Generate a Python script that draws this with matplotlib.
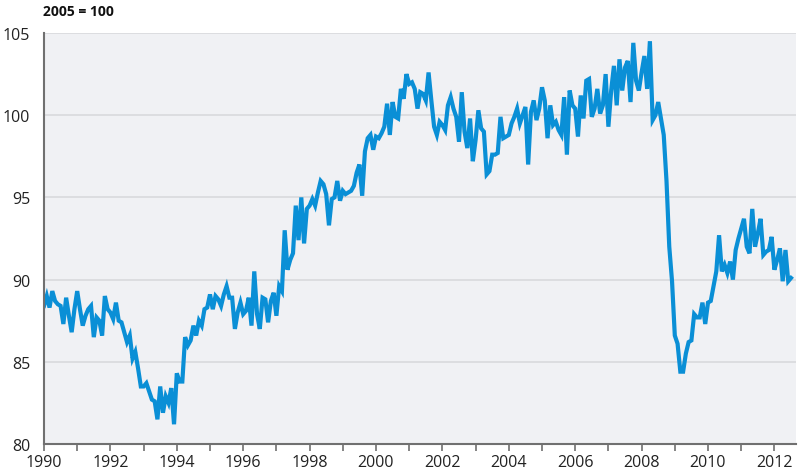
import numpy as np
import matplotlib
matplotlib.use("Agg")
import matplotlib.pyplot as plt

# monthly index values, 2005 = 100
y1990 = [88.4, 89.0, 88.3, 89.3, 88.7, 88.5, 88.4, 87.3, 88.9, 87.8, 86.8, 88.2]
y1991 = [89.3, 88.2, 87.2, 87.8, 88.2, 88.4, 86.5, 87.7, 87.5, 86.6, 89.0, 88.2]
y1992 = [88.0, 87.6, 88.6, 87.5, 87.4, 86.8, 86.2, 86.6, 85.2, 85.6, 84.6, 83.5]
y1993 = [83.5, 83.7, 83.2, 82.7, 82.6, 81.5, 83.5, 81.9, 82.9, 82.5, 83.4, 81.2]
y1994 = [84.3, 83.8, 83.8, 86.5, 86.0, 86.3, 87.2, 86.6, 87.5, 87.2, 88.2, 88.3]
y1995 = [89.1, 88.2, 89.0, 88.8, 88.4, 89.1, 89.6, 88.9, 88.9, 87.0, 88.0, 88.6]
y1996 = [87.9, 88.1, 88.9, 87.2, 90.5, 87.9, 87.0, 88.9, 88.8, 87.4, 88.7, 89.2]
y1997 = [87.8, 89.6, 89.3, 93.0, 90.6, 91.2, 91.6, 94.5, 92.4, 95.0, 92.2, 94.3]
y1998 = [94.5, 94.9, 94.5, 95.3, 96.0, 95.8, 95.2, 93.3, 94.9, 95.0, 96.0, 94.8]
y1999 = [95.4, 95.2, 95.3, 95.4, 95.7, 96.5, 97.0, 95.1, 97.8, 98.6, 98.8, 97.9]
y2000 = [98.7, 98.6, 98.9, 99.3, 100.7, 98.8, 100.8, 99.9, 99.8, 101.6, 101.0, 102.5]
y2001 = [101.9, 102.0, 101.6, 100.4, 101.4, 101.3, 100.9, 102.6, 100.9, 99.3, 98.8, 99.6]
y2002 = [99.4, 99.1, 100.6, 101.1, 100.4, 99.9, 98.4, 101.4, 99.0, 98.0, 99.8, 97.2]
y2003 = [98.5, 100.3, 99.2, 99.0, 96.4, 96.6, 97.6, 97.6, 97.7, 99.9, 98.6, 98.7]
y2004 = [98.8, 99.5, 99.9, 100.4, 99.5, 100.0, 100.5, 97.0, 100.2, 100.9, 99.7, 100.4]
y2005 = [101.7, 100.9, 98.6, 100.6, 99.4, 99.6, 99.1, 98.8, 101.1, 97.6, 101.5, 100.6]
y2006 = [100.4, 98.7, 101.2, 99.8, 102.1, 102.2, 99.9, 100.4, 101.6, 100.1, 100.6, 102.5]
y2007 = [99.3, 101.5, 103.0, 100.6, 103.4, 101.5, 102.9, 103.3, 100.8, 104.4, 102.1, 101.5]
y2008 = [102.6, 103.6, 101.6, 104.5, 99.7, 100.0, 100.8, 99.8, 98.8, 96.0, 92.0, 89.9]
y2009 = [86.6, 86.1, 84.4, 84.4, 85.5, 86.2, 86.3, 87.9, 87.7, 87.7, 88.6, 87.3]
y2010 = [88.6, 88.7, 89.6, 90.5, 92.7, 90.5, 90.9, 90.4, 91.1, 90.0, 91.8, 92.5]
y2011 = [93.1, 93.7, 92.0, 91.6, 94.3, 92.0, 92.8, 93.7, 91.5, 91.7, 91.8, 92.6]
y2012 = [90.6, 91.2, 91.9, 89.9, 91.8, 89.9, 90.1]

years = [y1990, y1991, y1992, y1993, y1994, y1995, y1996, y1997, y1998, y1999,
         y2000, y2001, y2002, y2003, y2004, y2005, y2006, y2007, y2008, y2009,
         y2010, y2011, y2012]
values = np.concatenate(years)
t = 1990 + np.arange(len(values)) / 12.0

fig = plt.figure(figsize=(7.98, 4.77), dpi=100)
ax = fig.add_axes([44 / 798, 32 / 477, 752 / 798, 411 / 477])
ax.set_facecolor('#f0f1f4')

ax.plot(t, values, color='#0a8fd6', lw=3.0, solid_joinstyle='miter')

ax.set_xlim(1990, 1990 + 752 / 33.2)
ax.set_ylim(80, 105)
ax.set_yticks([80, 85, 90, 95, 100, 105])
ax.set_xticks(range(1990, 2013, 2))
ax.set_xticks(range(1990, 2013), minor=True)
ax.grid(axis='y', color='#d8d9dc', lw=1.2)
ax.set_axisbelow(True)

for s in ['top', 'right']:
    ax.spines[s].set_visible(False)
for s in ['left', 'bottom']:
    ax.spines[s].set_color('#707070')
    ax.spines[s].set_linewidth(1.5)

ax.tick_params(axis='y', length=0, pad=10, labelsize=11.5, labelcolor='#222222')
ax.tick_params(axis='x', which='both', length=5, width=1.2, color='#707070',
               direction='out', labelsize=11.5, labelcolor='#222222', pad=2)
for lab in ax.get_xticklabels() + ax.get_yticklabels():
    lab.set_family('Open Sans')

fig.text(43 / 798, 1 - 12 / 477, '2005 = 100', fontsize=10, fontweight='bold',
         family='Open Sans', va='center', ha='left', color='#111111')

fig.savefig('out.png', dpi=100)
